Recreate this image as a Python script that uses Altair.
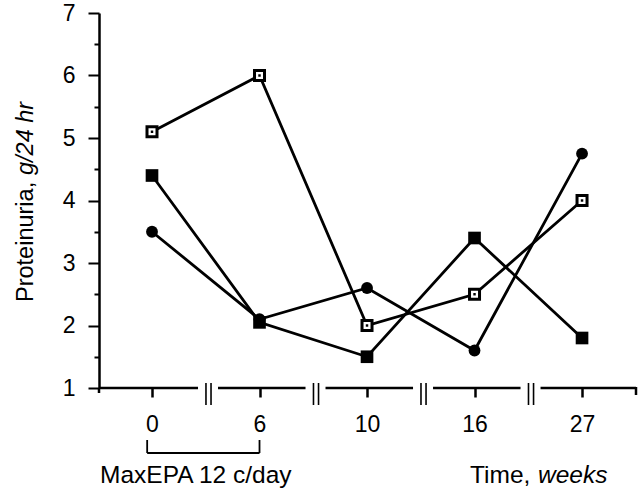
import altair as alt
import pandas as pd

# ---- data ----
weeks = ["0", "6", "10", "16", "27"]
open_square = [5.1, 6.0, 2.0, 2.5, 4.0]
filled_square = [4.4, 2.05, 1.5, 3.4, 1.8]
filled_circle = [3.5, 2.1, 2.6, 1.6, 4.75]
y_ticks = [1, 1.5, 2, 2.5, 3, 3.5, 4, 4.5, 5, 5.5, 6, 6.5, 7]

rows = []
for name, vals in [("open", open_square), ("square", filled_square), ("circle", filled_circle)]:
    for i, (w, v) in enumerate(zip(weeks, vals)):
        rows.append({"series": name, "idx": i, "week": w, "value": v})
df = pd.DataFrame(rows)

FONT = "Liberation Sans"
FS = 23.5
W, H = 537, 375
XMIN, XMAX = -0.493, 4.502
n = len(weeks)

xscale = alt.Scale(domain=[XMIN, XMAX], nice=False, zero=False)
yscale = alt.Scale(domain=[1, 7], nice=False, zero=False)

label_expr = "[" + ",".join(f"'{w}'" for w in weeks) + "][datum.value]"

x_axis = alt.Axis(values=list(range(n)), labelExpr=label_expr, domain=False, grid=False,
                  ticks=True, tickSize=9, tickWidth=2.5, tickColor="black",
                  labelFontSize=23, labelFont=FONT, labelColor="black", labelPadding=16,
                  title=None)
y_axis = alt.Axis(values=y_ticks,
                  labelExpr="datum.value % 1 === 0 ? format(datum.value, 'd') : ''",
                  tickSize={"condition": {"test": "datum.value % 1 === 0", "value": 11}, "value": 5},
                  tickWidth=2, tickColor="black", domain=True, domainColor="black", domainWidth=2.5,
                  grid=False, labelFontSize=23, labelFont=FONT, labelColor="black",
                  labelPadding=13, title=None)

X = lambda f="idx:Q": alt.X(f, scale=xscale, axis=x_axis)
Y = lambda: alt.Y("value:Q", scale=yscale, axis=y_axis)

base = alt.Chart(df)

lines = base.mark_line(color="black", strokeWidth=2.8).encode(
    x=X(), y=Y(), detail="series:N",
)

open_pts = base.transform_filter("datum.series === 'open'").mark_point(
    shape="square", filled=True, fill="white", stroke="black", strokeWidth=3, size=100, opacity=1
).encode(x=X(), y=Y())
open_dots = base.transform_filter("datum.series === 'open'").mark_point(
    shape="square", filled=True, color="black", size=6, opacity=1
).encode(x=X(), y=Y())
sq_pts = base.transform_filter("datum.series === 'square'").mark_square(
    color="black", size=160, opacity=1
).encode(x=X(), y=Y())
circ_pts = base.transform_filter("datum.series === 'circle'").mark_circle(
    color="black", size=140, opacity=1
).encode(x=X(), y=Y())

# broken x axis: segments between the category breaks
starts = [XMIN] + [k + 0.614 for k in range(n - 1)]
ends = [k + 0.428 for k in range(n - 1)] + [XMAX]
seg_df = pd.DataFrame({"idx": starts, "idx2": ends})
segments = alt.Chart(seg_df).mark_rule(color="black", strokeWidth=2.5).encode(
    x=X(), x2="idx2:Q", y=alt.value(H)
)

brk = []
for k in range(n - 1):
    brk += [k + 0.502, k + 0.549]
brk_df = pd.DataFrame({"idx": brk})
breaks = alt.Chart(brk_df).mark_rule(color="black", strokeWidth=1.6).encode(
    x=X(), y=alt.value(H - 5), y2=alt.value(H + 17)
)

end_df = pd.DataFrame({"idx": [XMAX]})
end_tick = alt.Chart(end_df).mark_rule(color="black", strokeWidth=2.5).encode(
    x=X(), y=alt.value(H - 1), y2=alt.value(H + 7)
)
yext = alt.Chart(pd.DataFrame({"a": [0]})).mark_rule(color="black", strokeWidth=2.5).encode(
    x=alt.value(0), y=alt.value(H), y2=alt.value(H + 5)
)

# bracket under weeks 0..6
br_v = pd.DataFrame({"idx": [-0.045, 1.0]})
bracket_v = alt.Chart(br_v).mark_rule(color="black", strokeWidth=1.8).encode(
    x=X(), y=alt.value(427), y2=alt.value(440)
)
br_h = pd.DataFrame({"idx": [-0.045], "idx2": [1.0]})
bracket_h = alt.Chart(br_h).mark_rule(color="black", strokeWidth=1.8).encode(
    x=X(), x2="idx2:Q", y=alt.value(440)
)

def txt(s, x, y, align, italic=False, angle=0, fs=FS):
    props = dict(align=align, baseline="alphabetic", fontSize=fs, font=FONT, color="black")
    if italic:
        props["fontStyle"] = "italic"
    if angle:
        props["angle"] = angle
    return alt.Chart(pd.DataFrame({"t": [s]})).mark_text(**props).encode(
        x=alt.value(x), y=alt.value(y), text="t:N"
    )

texts = [
    txt("Proteinuria,", -66, 289, "left", angle=270),
    txt("g/24 hr", -66, 162, "left", italic=True, angle=270),
    txt("MaxEPA 12 c/day", 1, 470, "left", fs=24.5),
    txt("Time,", 371, 470, "left", fs=24.5),
    txt("weeks", 439, 470, "left", italic=True, fs=24.5),
]

chart = alt.layer(
    lines, segments, breaks, end_tick, yext, bracket_v, bracket_h,
    open_pts, open_dots, sq_pts, circ_pts, *texts
).properties(
    width=W, height=H,
    padding={"left": 99, "top": 13, "right": 4, "bottom": 103},
    autosize=alt.AutoSizeParams(type="none"),
).configure_view(stroke=None)

chart.save("out.html", embed_options={"renderer": "svg", "actions": False})
